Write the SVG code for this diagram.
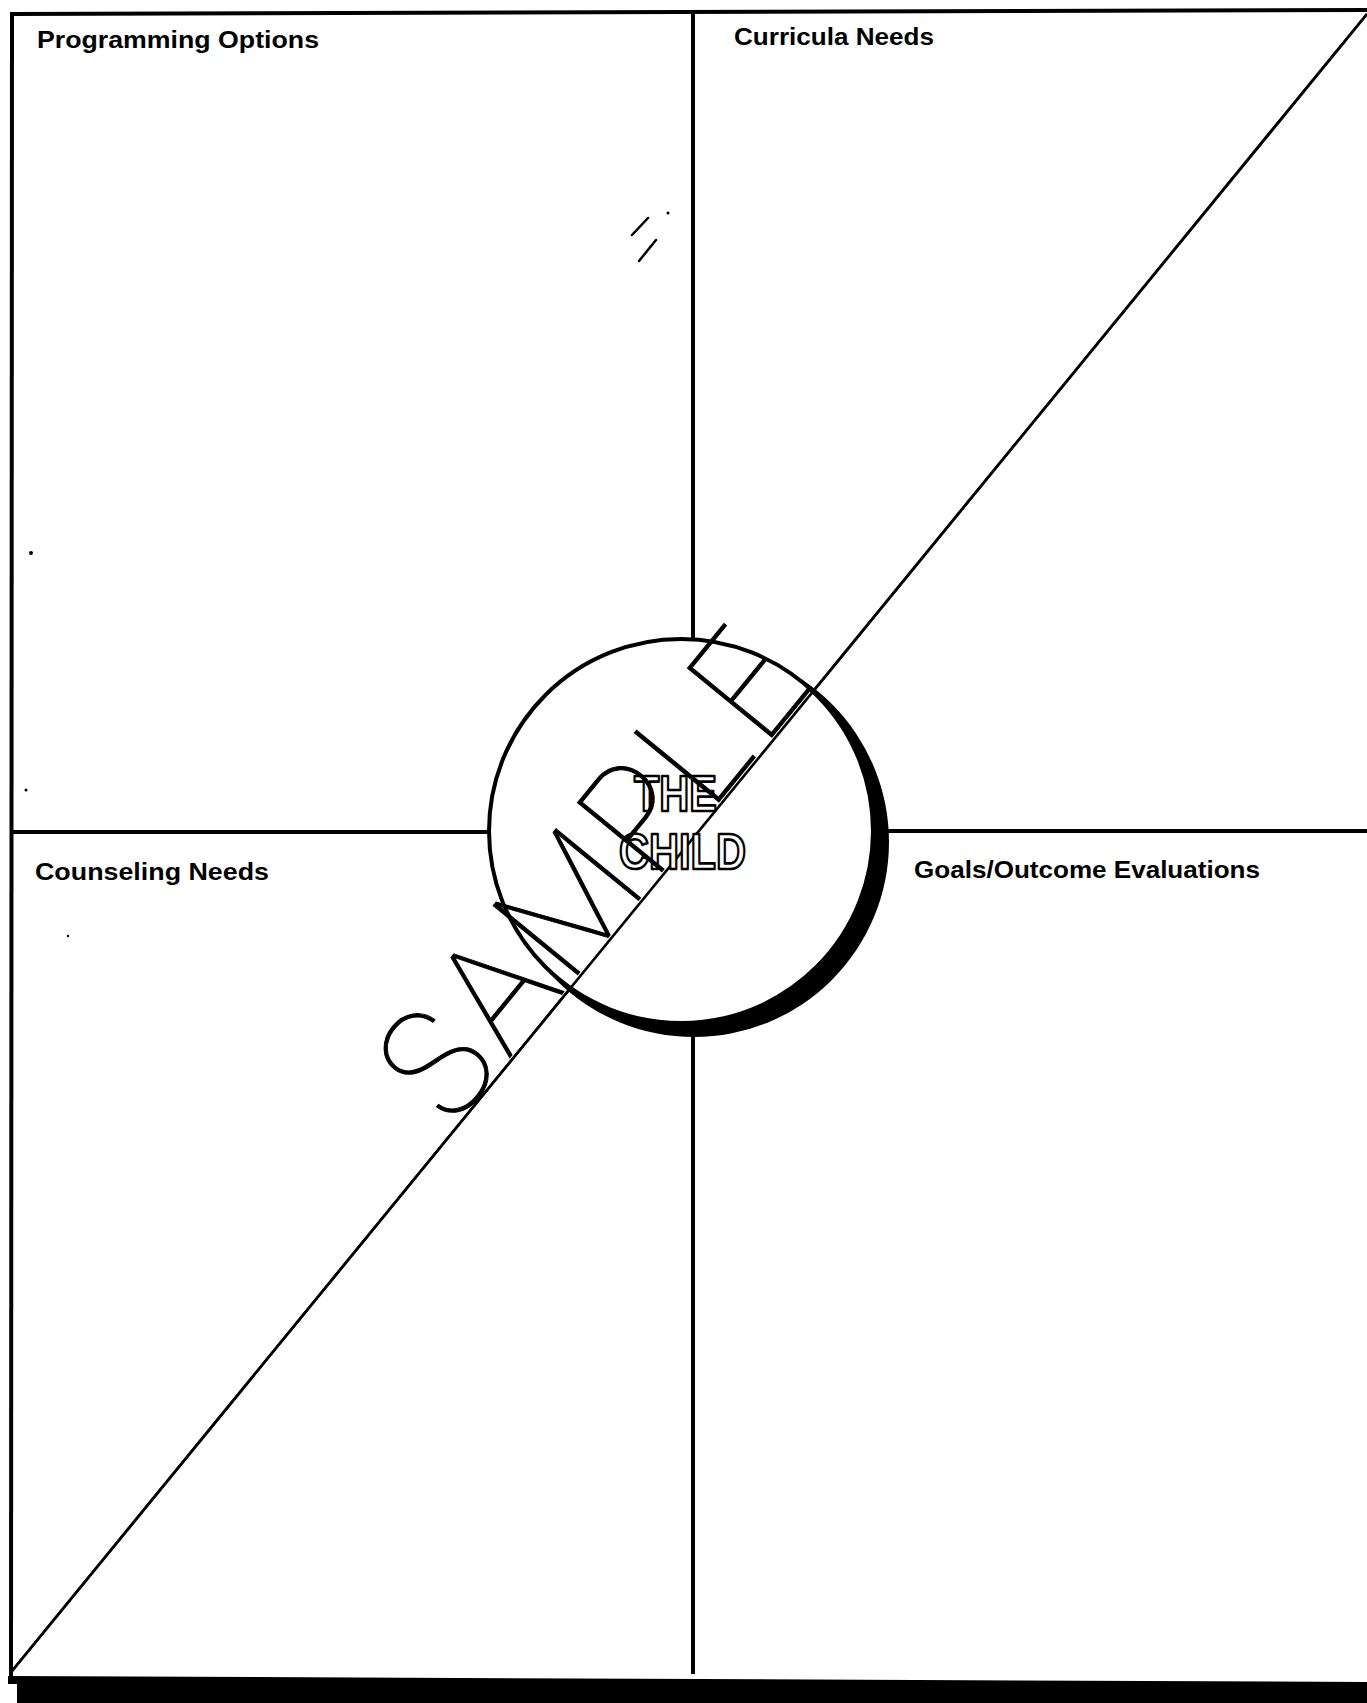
<svg xmlns="http://www.w3.org/2000/svg" width="1367" height="1703" viewBox="0 0 1367 1703">
<style>
.lbl{font-family:"Liberation Sans",Arial,sans-serif;font-weight:bold;font-size:23px;fill:#000}
.frame{stroke:#000;stroke-width:4;fill:none;stroke-linecap:square}
.child{font-family:"Liberation Sans",Arial,sans-serif;font-weight:bold;font-size:50px;fill:#fff;stroke:#000;stroke-width:2.6;stroke-linejoin:round}
.mark{stroke:#000;stroke-width:2.5;fill:none;stroke-linecap:round}
</style>
<rect x="0" y="0" width="1367" height="1703" fill="#fff"/>
<g id="frame">
<line class="frame" x1="12" y1="14" x2="1367" y2="10"/>
<line class="frame" x1="12" y1="14" x2="11" y2="1678"/>
<line class="frame" x1="12" y1="832" x2="489" y2="832"/>
<line class="frame" x1="888" y1="831" x2="1367" y2="831"/>
<line class="frame" x1="693" y1="12" x2="693" y2="640"/>
<line class="frame" x1="693" y1="1022" x2="693" y2="1672"/>
<polygon points="8,1676 1367,1682 1367,1703 17,1703 17,1684 8,1684" fill="#000"/>
</g>
<g id="connectors">
<line x1="12" y1="1671" x2="1367" y2="14" stroke="#000" stroke-width="2.6"/>
</g>
<g id="node-the-child">
<circle cx="694" cy="842" r="195" fill="#000"/>
<circle cx="681" cy="831" r="192" fill="#fff" stroke="#000" stroke-width="4"/>
<line x1="12" y1="1671" x2="1367" y2="14" stroke="#000" stroke-width="2.6"/>
<text class="child" x="634" y="811" textLength="83" lengthAdjust="spacingAndGlyphs">THE</text>
<text class="child" x="619" y="869" textLength="127" lengthAdjust="spacingAndGlyphs">CHILD</text>
</g>
<g id="node-programming-options">
<text class="lbl" x="37" y="48" textLength="282" lengthAdjust="spacingAndGlyphs">Programming Options</text>
</g>
<g id="node-curricula-needs">
<text class="lbl" x="734" y="45" textLength="200" lengthAdjust="spacingAndGlyphs">Curricula Needs</text>
</g>
<g id="node-counseling-needs">
<text class="lbl" x="35" y="880" textLength="234" lengthAdjust="spacingAndGlyphs">Counseling Needs</text>
</g>
<g id="node-goals-outcome">
<text class="lbl" x="914" y="878" textLength="346" lengthAdjust="spacingAndGlyphs">Goals/Outcome Evaluations</text>
</g>
<g id="watermark">
<text transform="translate(449,1132) rotate(-50.72)" font-family="Inter, 'DejaVu Sans', sans-serif" font-weight="100" font-size="150" textLength="580" lengthAdjust="spacingAndGlyphs" fill="#000" stroke="#000" stroke-width="1">SAMPLE</text>
</g>
<g id="specks">
<path class="mark" d="M632,235 L648,218 M639,261 L656,240"/>
<circle cx="668" cy="213" r="1.5"/>
<circle cx="31" cy="553" r="2"/>
<circle cx="26" cy="790" r="1.5"/>
<circle cx="68" cy="936" r="1.2"/>
</g>
</svg>
